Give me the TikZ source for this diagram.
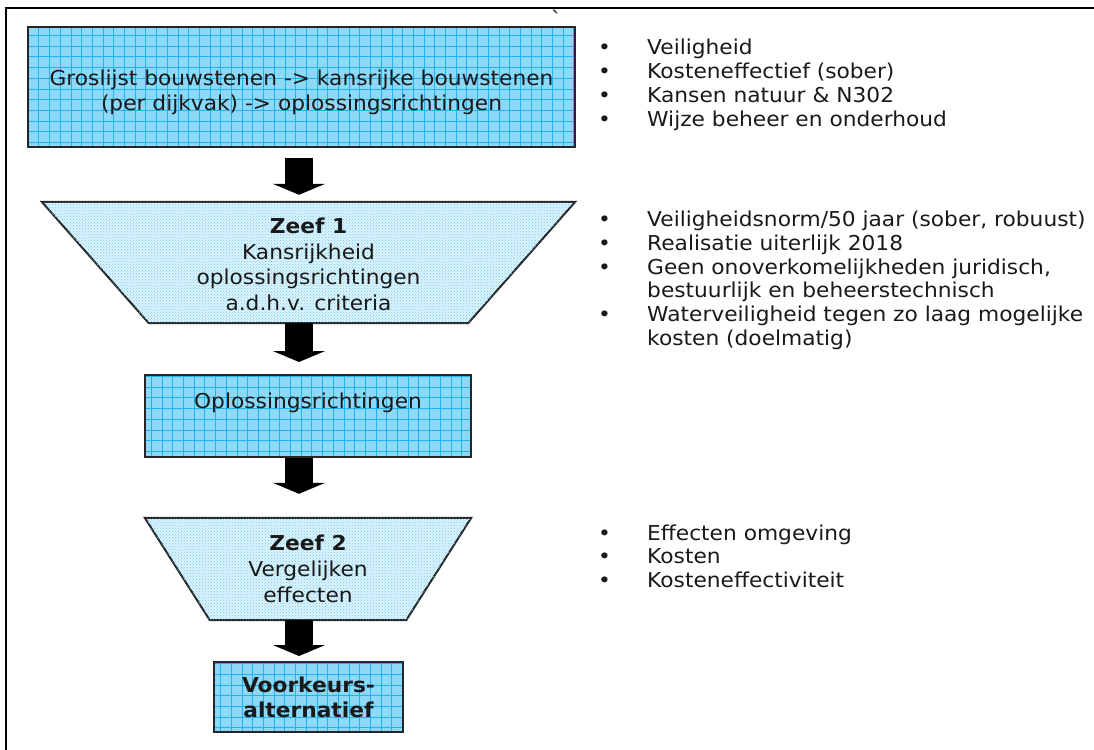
\documentclass[tikz,border=0pt]{standalone}
\usepackage{fontspec}
\setmainfont[FakeStretch=1.06]{DejaVu Sans}
\usetikzlibrary{arrows.meta,patterns,backgrounds}
\definecolor{boxblue}{HTML}{8DD8F6}
\definecolor{gridblue}{HTML}{1EB3EC}
\definecolor{sieveblue}{HTML}{DDF3FC}
\definecolor{dotblue}{HTML}{6ECDF2}

\begin{document}
\begin{tikzpicture}[x=1pt,y=-1pt,
	every node/.style={font=\fontsize{20.5}{25}\selectfont, inner sep=0pt, text=black!90},
	gridbox/.style={draw=black!85, line width=2pt, fill=boxblue, align=center,
		path picture={\draw[gridblue, line width=0.8pt] (path picture bounding box.south west) grid[step=10.7pt] (path picture bounding box.north east);}},
	sieve/.style={align=center},
	sievefill/.style={draw=black!85, line width=2pt, fill=sieveblue,
		postaction={pattern=crosshatch dots, pattern color=dotblue}},
	blockarrow/.style={line width=28pt, -{Triangle[width=52pt,length=11pt]}},
	bulletlist/.style={anchor=base west, align=left, font=\fontsize{20.5}{23.8}\selectfont}]
	\useasboundingbox (0,0) rectangle (1094,749);
	\clip (0,0) rectangle (1094,749);

	% frame
	\draw[line width=2.5pt] (6,760) -- (6,8) -- (1100,8);
	\node[anchor=north] (tick) at (556,10) {\textasciigrave};

	% column
	\node[gridbox, minimum width=547pt, minimum height=120pt] (groslijst) at (301.5,87)
		{\rule{0pt}{26pt}Groslijst bouwstenen -> kansrijke bouwstenen\\(per dijkvak) -> oplossingsrichtingen};
	\node[sieve, minimum width=533pt, minimum height=121pt, font=\fontsize{20.5}{25.5}\selectfont] (zeef1) at (308.5,264.5)
		{\textbf{Zeef 1}\\Kansrijkheid\\oplossingsrichtingen\\a.d.h.v. criteria};
	\node[gridbox, minimum width=326pt, text height=33.5pt, text depth=48.5pt] (oplos) at (308,416)
		{Oplossingsrichtingen};
	\node[sieve, minimum width=326pt, minimum height=102pt, font=\fontsize{20.5}{26}\selectfont] (zeef2) at (308,569)
		{\textbf{Zeef 2}\\Vergelijken\\effecten};
	\node[gridbox, minimum width=189pt, minimum height=70pt] (voorkeur) at (308.5,697)
		{\textbf{Voorkeurs-}\\\textbf{alternatief}};

	\begin{scope}[on background layer]
		\filldraw[sievefill] ([yshift=2pt]zeef1.north west) -- ([yshift=2pt]zeef1.north east)
			-- ([xshift=-107pt,yshift=2pt]zeef1.south east) -- ([xshift=107pt,yshift=2pt]zeef1.south west) -- cycle;
		\filldraw[sievefill] (zeef2.north west) -- (zeef2.north east)
			-- ([xshift=-65pt]zeef2.south east) -- ([xshift=65pt]zeef2.south west) -- cycle;
	\end{scope}

	% arrows
	\draw[blockarrow, shorten <=10pt, shorten >=9pt] ([xshift=-2.5pt]groslijst.south) -- ([xshift=-9.5pt]zeef1.north);
	\draw[blockarrow, shorten <=-2pt, shorten >=12pt] ([xshift=-9.5pt]zeef1.south) -- ([xshift=-9pt]oplos.north);
	\draw[blockarrow, shorten >=24pt] ([xshift=-9pt]oplos.south) -- ([xshift=-9pt]zeef2.north);
	\draw[blockarrow, shorten >=5pt] ([xshift=-9pt]zeef2.south) -- ([xshift=-9.5pt]voorkeur.north);

	% criteria
	\node[bulletlist] (criteria0) at (598,55) {\begin{tabular}[t]{@{}p{49pt}@{}l@{}}
		\textbullet & Veiligheid\\
		\textbullet & Kosteneffectief (sober)\\
		\textbullet & Kansen natuur \& N302\\
		\textbullet & Wijze beheer en onderhoud
	\end{tabular}};
	\node[bulletlist] (criteria1) at (598,226.5) {\begin{tabular}[t]{@{}p{49pt}@{}l@{}}
		\textbullet & Veiligheidsnorm/50 jaar (sober, robuust)\\
		\textbullet & Realisatie uiterlijk 2018\\
		\textbullet & Geen onoverkomelijkheden juridisch,\\
		 & bestuurlijk en beheerstechnisch\\
		\textbullet & Waterveiligheid tegen zo laag mogelijke\\
		 & kosten (doelmatig)
	\end{tabular}};
	\node[bulletlist] (criteria2) at (598,540) {\begin{tabular}[t]{@{}p{49pt}@{}l@{}}
		\textbullet & Effecten omgeving\\
		\textbullet & Kosten\\
		\textbullet & Kosteneffectiviteit
	\end{tabular}};
\end{tikzpicture}
\end{document}
